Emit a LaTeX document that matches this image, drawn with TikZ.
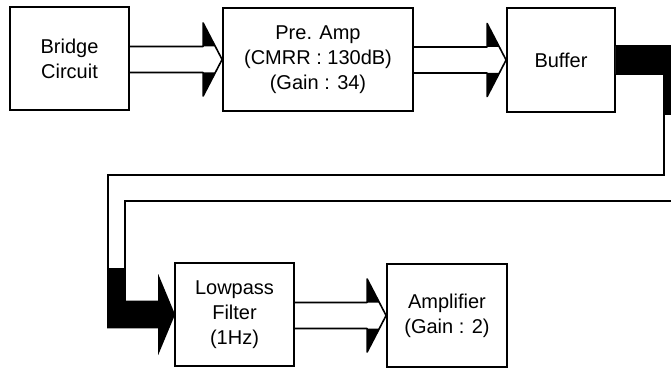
\documentclass[tikz,border=0pt]{standalone}
\usepackage{fontspec}
\setmainfont{Liberation Sans}
\usetikzlibrary{calc}
\newcommand{\hollowarr}[2]{%
  \coordinate (ha-s) at (#1.east |- #2.west);
  \fill[black] ($(#2.west)+(-19,-36.5)$) -- ($(#2.west)+(-19,-13)$) -- ($(#2.west)+(-6.8,-13)$) -- cycle;
  \fill[black] ($(#2.west)+(-19,36.5)$) -- ($(#2.west)+(-19,13)$) -- ($(#2.west)+(-6.8,13)$) -- cycle;
  \draw[arrline] ($(ha-s)+(0,-13)$) -- ($(#2.west)+(-19,-13)$) -- ($(#2.west)+(-19,-36.5)$) -- (#2.west) -- ($(#2.west)+(-19,36.5)$) -- ($(#2.west)+(-19,13)$) -- ($(ha-s)+(0,13)$);
}
\begin{document}
\begin{tikzpicture}[x=1pt,y=-1pt,
  blockbox/.style={draw=black, line width=1.8pt, inner sep=0pt, align=center,
    font=\fontsize{20}{25}\selectfont, fill=white},
  arrline/.style={draw=black, line width=1.6pt, line join=round},
  bandline/.style={draw=black, line width=1.8pt, line join=miter}]
\useasboundingbox (0,0) rectangle (671,371);
\fill[white] (0,0) rectangle (671,371);
\clip (0,0) rectangle (671,371);

\node[blockbox, minimum width=119pt, minimum height=103pt] (br) at (69.5,58.5) {Bridge\\Circuit};
\node[blockbox, minimum width=190pt, minimum height=103pt] (pre) at (318,59.5) {Pre. Amp\\(CMRR : 130dB)\\(Gain : 34)};
\node[blockbox, minimum width=108pt, minimum height=104pt] (buf) at (561,60) {Buffer};
\node[blockbox, minimum width=119pt, minimum height=103pt] (lp) at (234.5,314.5) {Lowpass\\Filter\\(1Hz)};
\node[blockbox, minimum width=120pt, minimum height=103pt] (amp) at (447,315.5) {Amplifier\\(Gain : 2)};

\hollowarr{br}{pre}
\hollowarr{pre}{buf}
\hollowarr{lp}{amp}

% wide band connector from Buffer to Lowpass Filter
\path (buf.east) ++(0,-14) coordinate (b1) ++(0,28) coordinate (b2);
\coordinate (c1) at (692,46);
\coordinate (c2) at (692,201);
\coordinate (c3) at (125,201);
\coordinate (c4) at (125,301.5);
\coordinate (c5) at (108,327.5);
\coordinate (c6) at (108,175);
\coordinate (c7) at (664,175);
\coordinate (c8) at (664,74);
\draw[bandline, fill=white] (b1) -- (c1) -- (c2) -- (c3) -- (c4)
  -- ($(lp.west)+(-15,-13)$) -- ($(lp.west)+(-15,-36)$) -- (lp.west)
  -- ($(lp.west)+(-15,36)$) -- ($(lp.west)+(-15,13)$) -- (c5) -- (c6) -- (c7) -- (c8) -- (b2);
\fill[black] (b1) -- (c1) -- (692,115) -- (664,115) -- (c8) -- (b2) -- cycle;
\fill[black] (108,268) -- (125,268) -- (c4)
  -- ($(lp.west)+(-15,-13)$) -- ($(lp.west)+(-15,-36)$) -- (lp.west)
  -- ($(lp.west)+(-15,36)$) -- ($(lp.west)+(-15,13)$) -- (c5) -- cycle;
\end{tikzpicture}
\end{document}
